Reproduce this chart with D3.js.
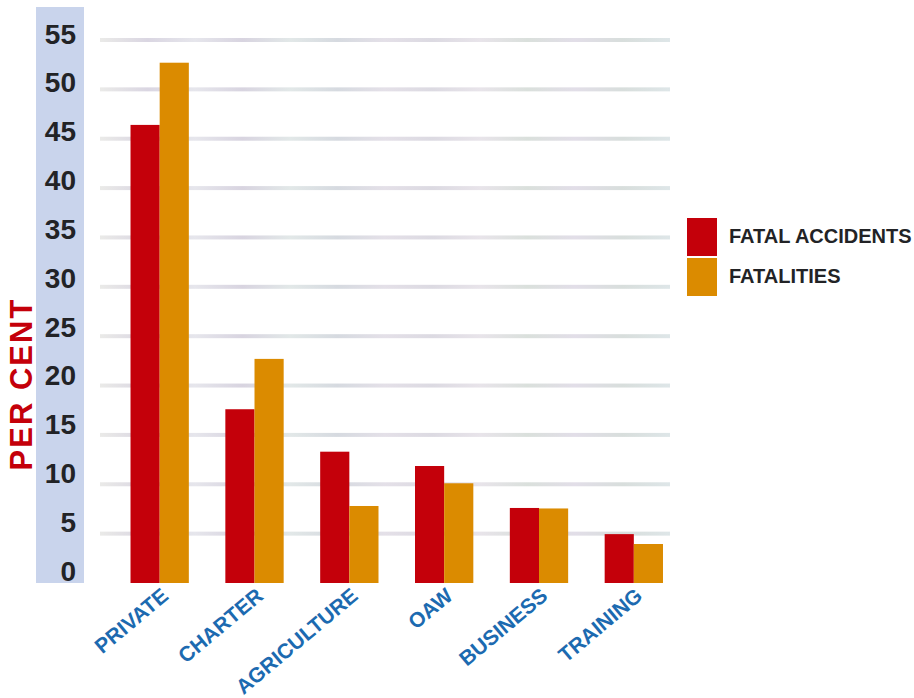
<!DOCTYPE html>
<html>
<head>
<meta charset="utf-8">
<script src="https://cdn.jsdelivr.net/npm/d3@7"></script>
<style>
  html, body { margin: 0; padding: 0; background: #fff; }
  svg { display: block; }
  text { font-family: "Liberation Sans", Arial, Helvetica, sans-serif; font-weight: bold; }
</style>
</head>
<body>
<svg id="chart" width="914" height="698"></svg>
<script>
// Share of accidents by operation category (per cent)
const categories = ["PRIVATE", "CHARTER", "AGRICULTURE", "OAW", "BUSINESS", "TRAINING"];
const seriesNames = ["FATAL ACCIDENTS", "FATALITIES"];
const fatalAccidents = [46.4, 17.6, 13.3, 11.85, 7.6, 4.95];
const fatalities = [52.7, 22.7, 7.8, 10.1, 7.55, 3.95];
const yTicks = [0, 5, 10, 15, 20, 25, 30, 35, 40, 45, 50, 55];
const colors = ["#c4000a", "#db8b00"];

const svg = d3.select("#chart");

const y = d3.scaleLinear().domain([0, 55]).range([583, 40]);
// tick numbers sit in the blue band, spaced a touch tighter than the grid
const yLabel = d3.scaleLinear().domain([0, 55]).range([570, 33]);
const x0 = d3.scaleBand().domain(categories).range([112.5, 681])
  .paddingInner(0.385).paddingOuter(0.19);
const x1 = d3.scaleBand().domain(seriesNames).range([0, x0.bandwidth()]);
const color = d3.scaleOrdinal().domain(seriesNames).range(colors);

// Light blue band behind the value axis
svg.append("rect")
  .attr("x", 36).attr("y", 7)
  .attr("width", 48).attr("height", y(0) - 7)
  .attr("fill", "#c9d4ec");

// Soft, textured-looking grid lines
const defs = svg.append("defs");
const grad = defs.append("linearGradient")
  .attr("id", "gridGrad")
  .attr("gradientUnits", "userSpaceOnUse")
  .attr("x1", 100).attr("x2", 670).attr("y1", 0).attr("y2", 0);
const gStops = ["#eaeae8", "#dad6e2", "#e6e6ec", "#d8d4e0", "#e2e8e8", "#d6dae0", "#e4e0e8",
                "#dcdae2", "#e8e4ea", "#dae0dc", "#e2dee8", "#d8dedc", "#dee6e8"];
gStops.forEach((c, i) => {
  grad.append("stop").attr("offset", i / (gStops.length - 1)).attr("stop-color", c);
});

svg.append("g").attr("class", "grid")
  .selectAll("rect")
  .data(yTicks.filter(d => d > 0))
  .join("rect")
  .attr("x", 100)
  .attr("y", d => y(d) - 2)
  .attr("width", 570)
  .attr("height", 4)
  .attr("fill", "url(#gridGrad)");

// Value axis labels
const yAxis = d3.axisLeft(yLabel).tickValues(yTicks).tickSize(0).tickPadding(0).tickFormat(d3.format("d"));
const yG = svg.append("g").attr("transform", "translate(76,0)").call(yAxis);
yG.select(".domain").remove();
yG.selectAll("text")
  .attr("x", 0)
  .attr("dy", "0.36em")
  .attr("font-size", 28)
  .attr("font-family", "'Liberation Sans', Arial, sans-serif")
  .attr("font-weight", "bold")
  .attr("fill", "#222326")
  .attr("text-anchor", "end");

// Grouped bars
const rows = categories.map((c, i) => ({ category: c, values: [fatalAccidents[i], fatalities[i]] }));
svg.append("g").selectAll("g")
  .data(rows)
  .join("g")
  .attr("transform", d => `translate(${x0(d.category)},0)`)
  .selectAll("rect")
  .data(d => seriesNames.map((s, j) => ({ series: s, value: d.values[j] })))
  .join("rect")
  .attr("x", d => x1(d.series))
  .attr("width", x1.bandwidth())
  .attr("y", d => y(d.value))
  .attr("height", d => y(0) - y(d.value))
  .attr("fill", d => color(d.series));

// Category labels, slanted
const xAxis = d3.axisBottom(x0).tickSize(0).tickPadding(0);
const xG = svg.append("g").attr("transform", `translate(0,${y(0)})`).call(xAxis);
xG.select(".domain").remove();
xG.selectAll("text")
  .attr("font-size", 21)
  .attr("font-family", "'Liberation Sans', Arial, sans-serif")
  .attr("font-weight", "bold")
  .attr("fill", "#1c6ab0")
  .attr("text-anchor", "end")
  .attr("dy", 0)
  .attr("y", 0)
  .attr("x", 0)
  .attr("transform", "translate(10,15) rotate(-40)");

// Axis title
svg.append("text")
  .attr("transform", "translate(32,384) rotate(-90)")
  .attr("text-anchor", "middle")
  .attr("font-size", 31)
  .attr("letter-spacing", 2)
  .attr("fill", "#c4000a")
  .text("PER CENT");

// Legend
const legend = svg.append("g").attr("transform", "translate(687,218)");
const li = legend.selectAll("g").data(seriesNames).join("g")
  .attr("transform", (d, i) => `translate(0,${i * 40})`);
li.append("rect").attr("width", 30).attr("height", 38).attr("fill", d => color(d));
li.append("text")
  .attr("x", 42).attr("y", 25)
  .attr("font-size", 20)
  .attr("fill", "#222326")
  .text(d => d);
</script>
</body>
</html>
